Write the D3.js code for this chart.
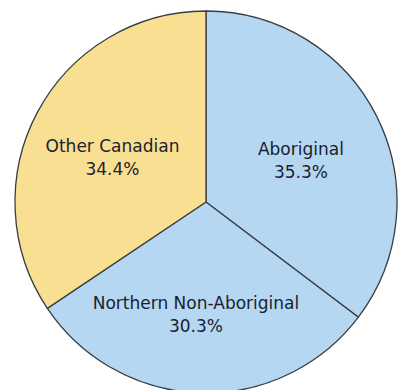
<!DOCTYPE html>
<html>
<head>
<meta charset="utf-8">
<script src="https://cdn.jsdelivr.net/npm/d3@7"></script>
<style>
  body { margin: 0; background: #fff; }
  svg { display: block; }
</style>
</head>
<body>
<div id="chart"></div>
<script>
const categories = ['Aboriginal', 'Northern Non-Aboriginal', 'Other Canadian'];
const values = [35.3, 30.3, 34.4];
const valueLabels = ['35.3%', '30.3%', '34.4%'];
const colors = ['#b5d7f2', '#b5d7f2', '#f8df92'];

const width = 398,
height = 390,
cx = 206,
cy = 202,
radius = 191;

const svg = d3.select('#chart').
append('svg').
attr('width', width).
attr('height', height);

const pie = d3.pie().
sort(null).
value(d => d);

const arcs = pie(values);

const arc = d3.arc().
innerRadius(0).
outerRadius(radius);

const g = svg.append('g').
attr('transform', `translate(${cx},${cy})`);

g.selectAll('path').
data(arcs).
enter().
append('path').
attr('d', arc).
attr('fill', (d, i) => colors[i]).
attr('stroke', '#3a3f44').
attr('stroke-width', 1.3);

// the bottom label sits a bit further out and left than the other two
const labelRadius = i => i === 1 ? 107 : 106;
const labelNudge = i => i === 1 ? -7 : 0;

const labels = g.selectAll('text.label').
data(arcs).
enter().
append('text').
attr('class', 'label').
attr('text-anchor', 'middle').
style('font-family', 'DejaVu Sans, Verdana, sans-serif').
style('font-size', '17px').
style('fill', '#1b2230').
attr('transform', (d, i) => {
  const r = labelRadius(i);
  const c = d3.arc().innerRadius(r).outerRadius(r).centroid(d);
  return `translate(${c[0] + labelNudge(i)},${c[1]})`;
});

labels.append('tspan').
attr('x', 0).
attr('dy', 0).
text((d, i) => categories[i]);

labels.append('tspan').
attr('x', 0).
attr('dy', 23).
text((d, i) => valueLabels[i]);
</script>
</body>
</html>
